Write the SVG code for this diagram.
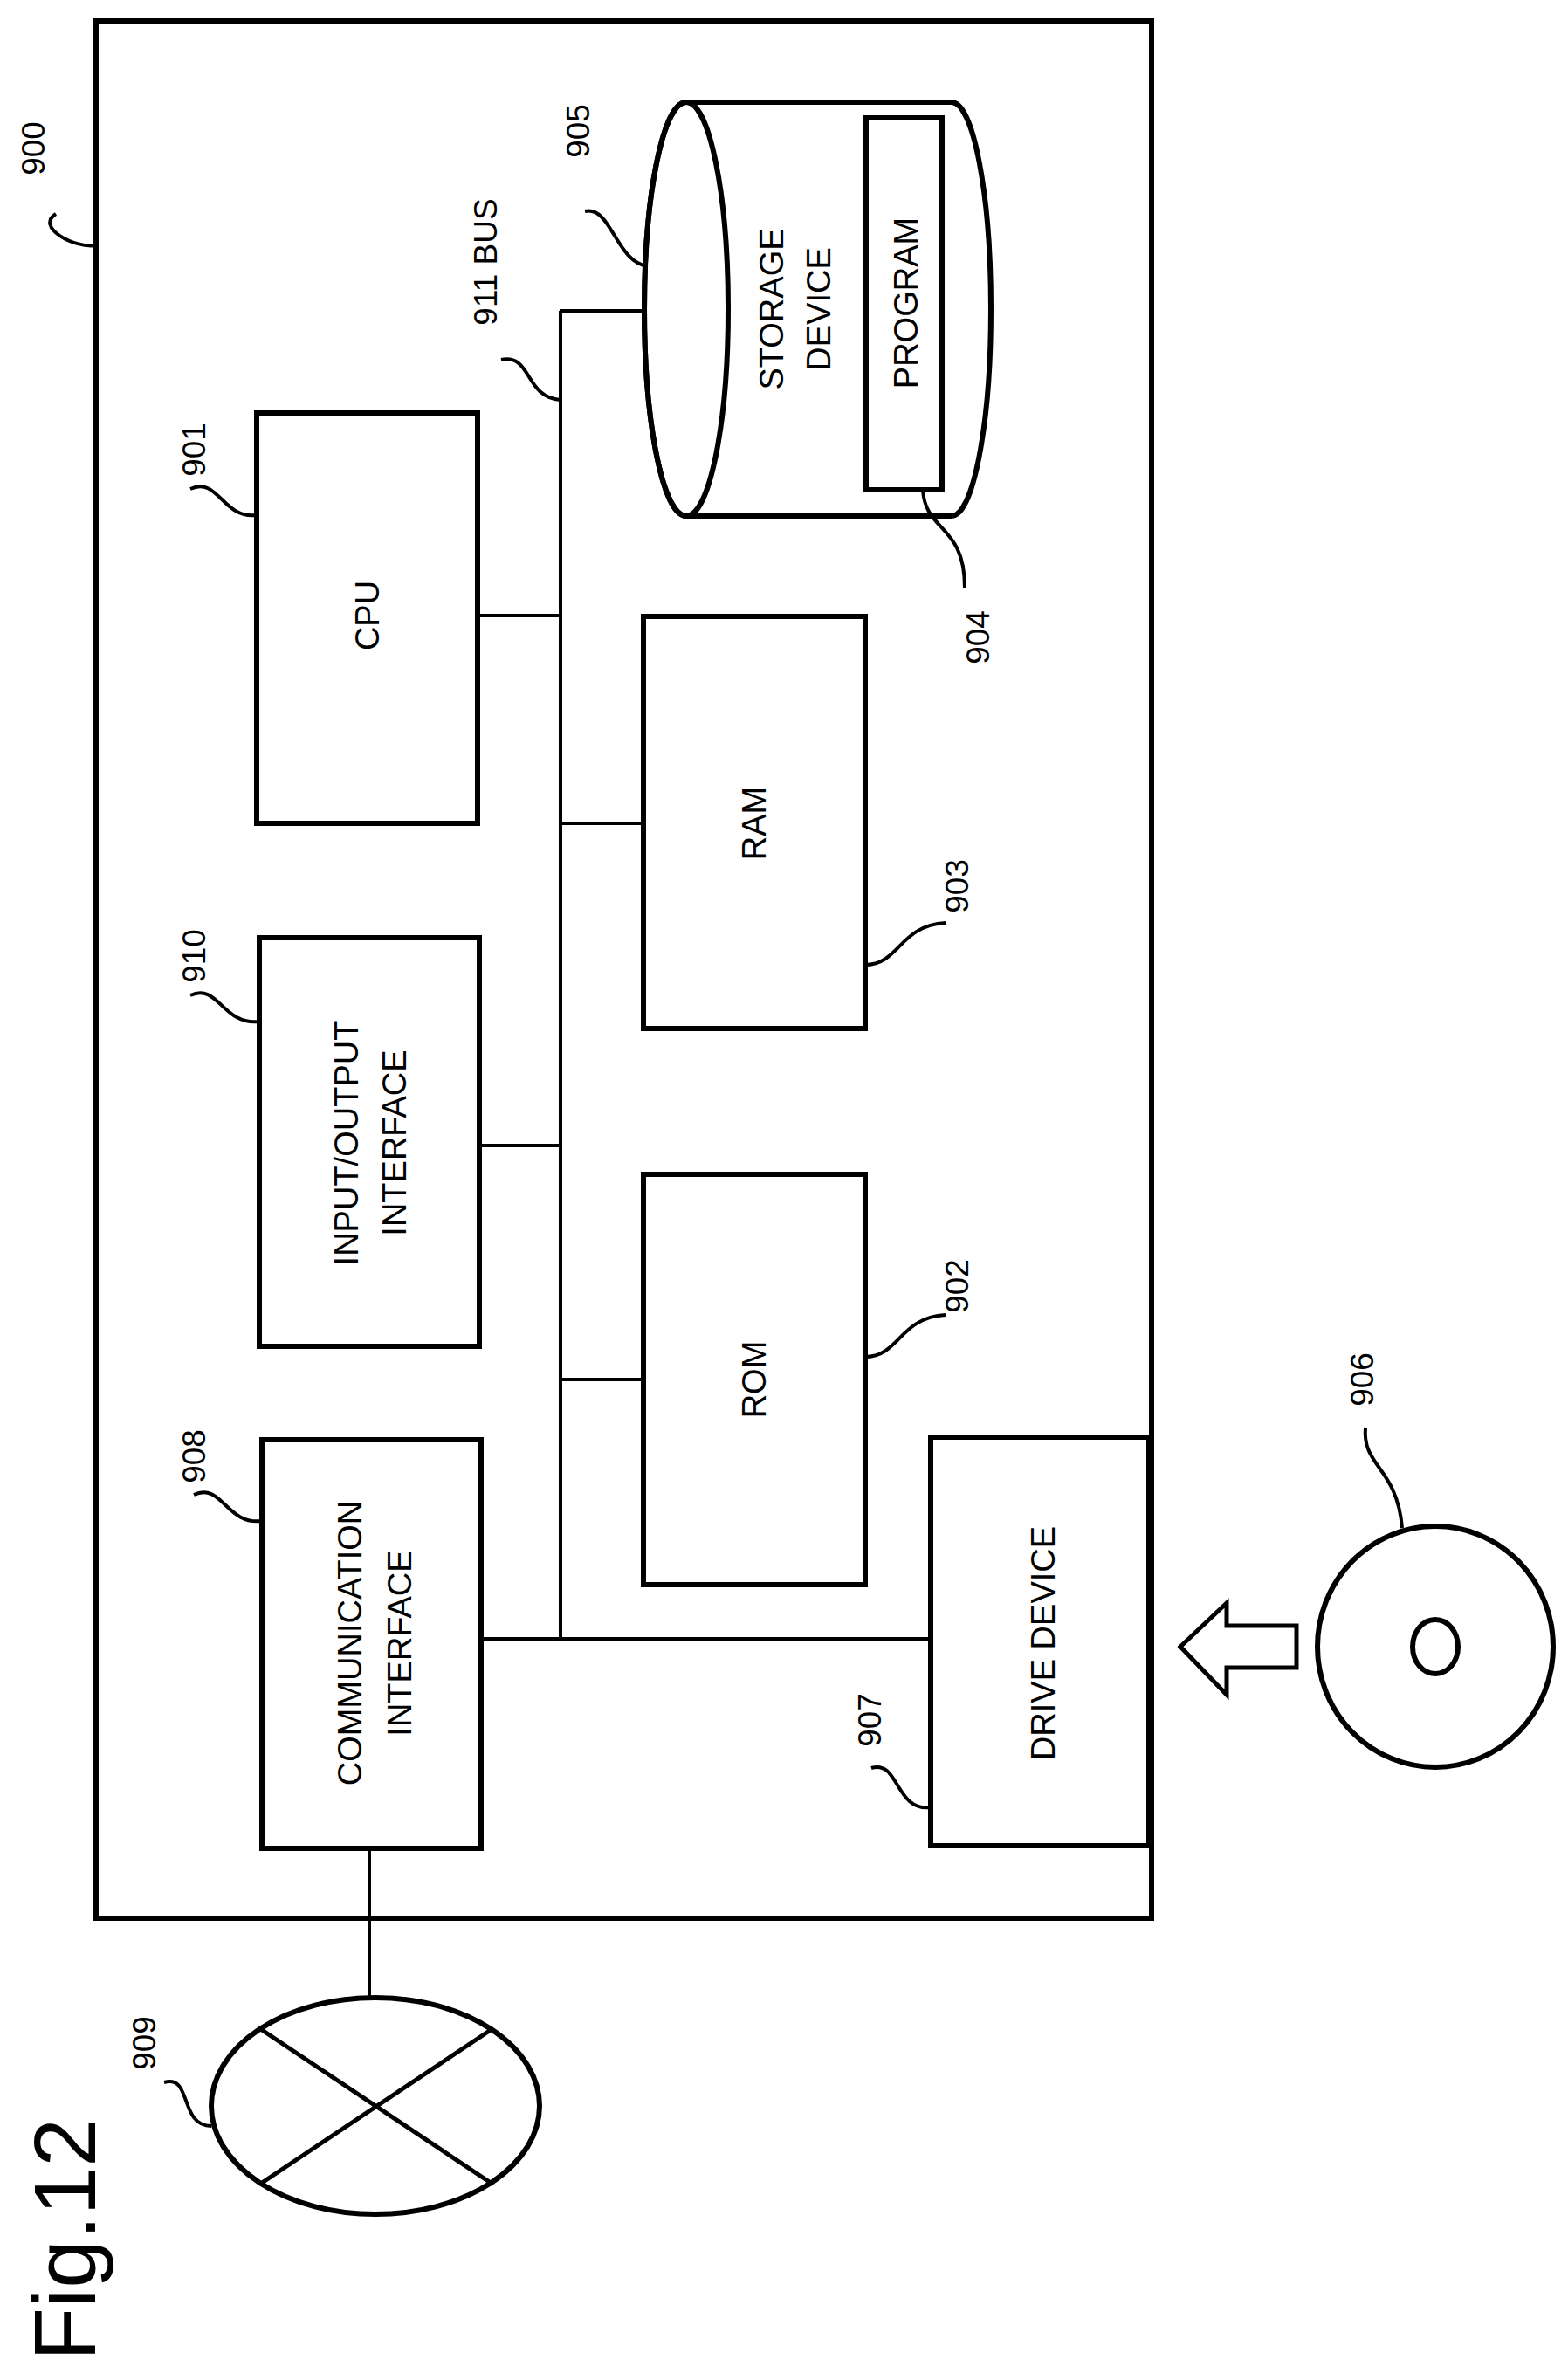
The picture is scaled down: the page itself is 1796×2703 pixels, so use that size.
<svg xmlns="http://www.w3.org/2000/svg" width="1796" height="2703" viewBox="0 0 1796 2703">
<style>
.b{fill:#fff;stroke:#000;stroke-width:6}
.l{fill:none;stroke:#000;stroke-width:4}
.t{font-family:"Liberation Sans",Arial,sans-serif;font-size:38px;text-anchor:middle;dominant-baseline:central}
.n{font-family:"Liberation Sans",Arial,sans-serif;font-size:37px;text-anchor:middle;dominant-baseline:central}
</style>
<rect width="1796" height="2703" fill="#fff"/>
<g id="n900"><rect class="b" x="110" y="24" width="1209" height="2173"/>
<text class="n" transform="translate(38,170) rotate(-90)">900</text>
<path class="l" d="M64,245 C40,260 85,285 110,281"/></g>
<g id="connectors">
<path class="l" d="M642,356 V1877 M642,356 H737 M547,705 H642 M642,943 H737 M549,1312 H642 M642,1580 H737 M551,1877 H1066 M423,2117 V2288"/>
</g>
<g id="n901"><rect class="b" x="294" y="473" width="253" height="470"/>
<text class="t" transform="translate(421,705) rotate(-90)">CPU</text>
<text class="n" transform="translate(222,515) rotate(-90)">901</text>
<path class="l" d="M218,560 C250,545 255,595 294,590"/></g>
<g id="n910"><rect class="b" x="297" y="1074" width="252" height="468"/>
<text class="t" transform="translate(397,1309) rotate(-90)">INPUT/OUTPUT</text>
<text class="t" transform="translate(452,1309) rotate(-90)">INTERFACE</text>
<text class="n" transform="translate(222,1095) rotate(-90)">910</text>
<path class="l" d="M218,1140 C250,1125 255,1175 297,1170"/></g>
<g id="n908"><rect class="b" x="300" y="1649" width="251" height="468"/>
<text class="t" transform="translate(401,1882) rotate(-90)">COMMUNICATION</text>
<text class="t" transform="translate(458,1882) rotate(-90)">INTERFACE</text>
<text class="n" transform="translate(222,1668) rotate(-90)">908</text>
<path class="l" d="M222,1712 C254,1697 259,1747 300,1742"/></g>
<g id="n903"><rect class="b" x="737" y="706" width="254" height="472"/>
<text class="t" transform="translate(864,943) rotate(-90)">RAM</text>
<text class="n" transform="translate(1096,1015) rotate(-90)">903</text>
<path class="l" d="M991,1105 C1030,1105 1030,1060 1083,1057"/></g>
<g id="n902"><rect class="b" x="737" y="1345" width="254" height="470"/>
<text class="t" transform="translate(864,1580) rotate(-90)">ROM</text>
<text class="n" transform="translate(1096,1473) rotate(-90)">902</text>
<path class="l" d="M991,1554 C1030,1554 1030,1509 1083,1506"/></g>
<g id="n907"><rect class="b" x="1066" y="1646" width="250" height="468"/>
<text class="t" transform="translate(1195,1882) rotate(-90)">DRIVE DEVICE</text>
<text class="n" transform="translate(996,1970) rotate(-90)">907</text>
<path class="l" d="M998,2025 C1030,2015 1025,2075 1066,2070"/></g>
<g id="n905">
<path class="b" d="M786,117 H1090 A45,237 0 0 1 1090,591 H786 A48,237 0 0 1 786,117 Z"/>
<ellipse class="b" cx="786" cy="354" rx="48" ry="237" style="fill:none"/>
<text class="t" transform="translate(884,354) rotate(-90)">STORAGE</text>
<text class="t" transform="translate(938,354) rotate(-90)">DEVICE</text>
<text class="n" transform="translate(662,150) rotate(-90)">905</text>
<path class="l" d="M670,242 C700,235 705,300 742,305"/></g>
<g id="n904"><rect class="b" x="992" y="135" width="87" height="426"/>
<text class="t" transform="translate(1038,347) rotate(-90)">PROGRAM</text>
<text class="n" transform="translate(1120,730) rotate(-90)">904</text>
<path class="l" d="M1057,561 C1060,610 1105,600 1105,673"/></g>
<g id="n911"><text class="n" transform="translate(556,300) rotate(-90)">911 BUS</text>
<path class="l" d="M574,412 C610,405 600,455 642,458"/></g>
<g id="n906"><ellipse class="b" cx="1644" cy="1886" rx="135" ry="138"/>
<ellipse class="b" cx="1644" cy="1886" rx="26" ry="31"/>
<text class="n" transform="translate(1560,1580) rotate(-90)">906</text>
<path class="l" d="M1564,1635 C1560,1680 1600,1680 1606,1750"/></g>
<g id="arrow"><path class="b" d="M1352,1886 L1405,1836 V1862 H1485 V1910 H1405 V1941 Z" style="stroke-width:5"/></g>
<g id="n909"><ellipse class="b" cx="430" cy="2412" rx="188" ry="124"/>
<path class="l" d="M297,2323 L565,2502 M297,2502 L565,2323" style="stroke-width:5"/>
<text class="n" transform="translate(165,2340) rotate(-90)">909</text>
<path class="l" d="M188,2385 C220,2375 205,2435 242,2435"/></g>
<text class="t" style="font-size:100px" transform="translate(74,2565) rotate(-90)">Fig.12</text>
</svg>
